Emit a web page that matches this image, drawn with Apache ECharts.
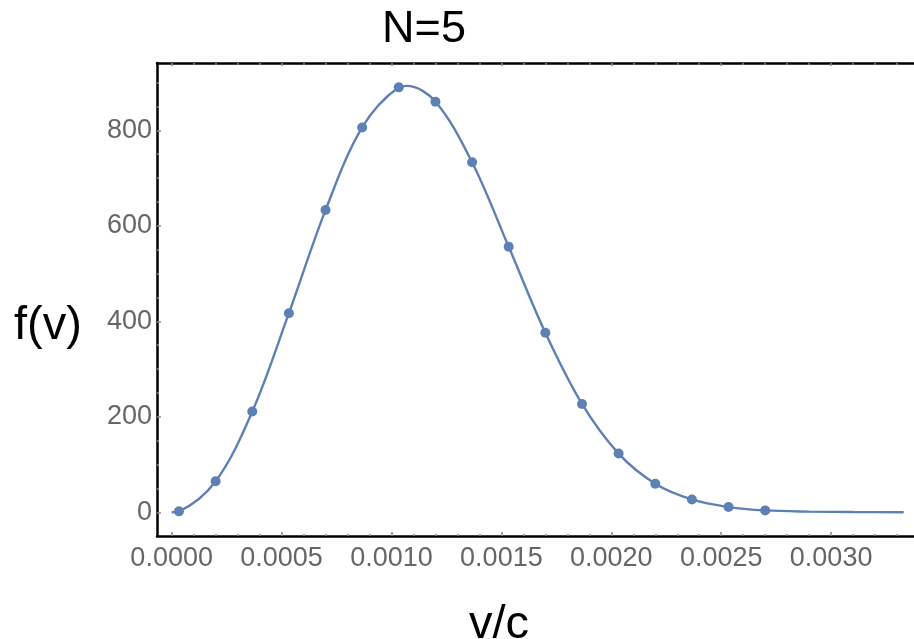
<!DOCTYPE html>
<html>
<head>
<meta charset="utf-8">
<script src="https://cdn.jsdelivr.net/npm/echarts@6/dist/echarts.min.js"></script>
<style>
html,body{margin:0;padding:0;background:#fff;}
#c{width:914px;height:639px;}
</style>
</head>
<body>
<div id="c"></div>
<script>
// ---- data ----
var titleText = 'N=5';
var xName = 'v/c';
var yName = 'f(v)';
// sampled points (dots)
var dotX = [0.0000333, 0.0002, 0.0003667, 0.0005333, 0.0007, 0.0008667, 0.0010333, 0.0012, 0.0013667, 0.0015333, 0.0017, 0.0018667, 0.0020333, 0.0022, 0.0023667, 0.0025333, 0.0027];
var dotY = [2, 65, 211, 417, 633, 806, 890, 860, 733, 556, 376, 227, 123, 60, 27, 11, 4];
// points
var curveX = [0, 0.0000333, 0.0002, 0.0003667, 0.0005333, 0.0007, 0.0008667, 0.0010333, 0.00107, 0.0012, 0.0013667, 0.0015333, 0.0017, 0.0018667, 0.0020333, 0.0022, 0.0023667, 0.0025333, 0.0027, 0.0029, 0.0031, 0.00333];
var curveY = [0, 2, 65, 211, 417, 633, 806, 890, 893, 860, 733, 556, 376, 227, 123, 60, 27, 11, 4, 1.5, 0.6, 0.2];
// tick labels
var xTicks = [0, 0.0005, 0.0010, 0.0015, 0.0020, 0.0025, 0.0030];
var yTicks = [0, 200, 400, 600, 800];
var xMinorStep = 0.0001;
var yMinorStep = 50;
// axis ranges
var xMin = -0.0000667, xMax = 0.003377;
var yMin = -49.6, yMax = 941;

function minorList(step, lo, hi) {
  var out = [];
  var k0 = Math.ceil(lo / step), k1 = Math.floor(hi / step);
  for (var k = k0; k <= k1; k++) out.push(+(k * step).toFixed(10));
  return out;
}
var xMinor = minorList(xMinorStep, xMin, xMax);
var yMinor = minorList(yMinorStep, yMin, yMax);

var FONT = '"Liberation Sans", Arial, sans-serif';
var LABEL_COLOR = '#666666';
var TICK_COLOR = '#8a8a8a';
var LINE_COLOR = '#5E81B5';

function xAx(pos, ticks, len, showLine, showLabel) {
  return {
    type: 'value', position: pos, min: xMin, max: xMax,
    axisLine: {show: showLine, onZero: false, lineStyle: {color: '#000', width: 2.5}},
    axisTick: {show: true, inside: true, length: len, customValues: ticks, lineStyle: {color: TICK_COLOR, width: 1.5}},
    axisLabel: {show: showLabel, customValues: xTicks, margin: 9, fontSize: 27, fontFamily: FONT, color: LABEL_COLOR,
      formatter: function (v) { return v.toFixed(4); }},
    splitLine: {show: false}
  };
}
function yAx(pos, ticks, len, showLine, showLabel) {
  return {
    type: 'value', position: pos, min: yMin, max: yMax,
    axisLine: {show: showLine, onZero: false, lineStyle: {color: '#000', width: 2.5}},
    axisTick: {show: true, inside: true, length: len, customValues: ticks, lineStyle: {color: TICK_COLOR, width: 1.5}},
    axisLabel: {show: showLabel, customValues: yTicks, margin: 5, fontSize: 27, fontFamily: FONT, color: LABEL_COLOR,
      formatter: function (v) { return String(v); }},
    splitLine: {show: false}
  };
}

var chart = echarts.init(document.getElementById('c'), null, {renderer: 'canvas'});
chart.setOption({
  animation: false,
  backgroundColor: '#fff',
  grid: {left: 157, top: 63, right: -2, bottom: 103, containLabel: false},
  xAxis: [
    xAx('bottom', xTicks, 4, true, true),
    xAx('bottom', xMinor, 2, false, false),
    xAx('top', xTicks, 3, true, false),
    xAx('top', xMinor, 2, false, false)
  ],
  yAxis: [
    yAx('left', yTicks, 4, true, true),
    yAx('left', yMinor, 2, false, false)
  ],
  graphic: [
    {type: 'text', x: 424, y: 30, style: {text: titleText, font: '45px ' + FONT, fill: '#000', textAlign: 'center', textVerticalAlign: 'middle'}},
    {type: 'text', x: 14, y: 326, style: {text: yName, font: '47px ' + FONT, fill: '#000', textAlign: 'left', textVerticalAlign: 'middle'}},
    {type: 'text', x: 499, y: 625, style: {text: xName, font: '47px ' + FONT, fill: '#000', textAlign: 'center', textVerticalAlign: 'middle'}}
  ],
  series: [
    {
      type: 'line', name: 'curve', xAxisIndex: 0, yAxisIndex: 0,
      data: curveX.map(function (x, i) { return [x, curveY[i]]; }),
      smooth: 0.35, showSymbol: false, symbol: 'none',
      lineStyle: {color: LINE_COLOR, width: 2.4}, z: 2
    },
    {
      type: 'scatter', name: 'points', xAxisIndex: 0, yAxisIndex: 0,
      data: dotX.map(function (x, i) { return [x, dotY[i]]; }),
      symbolSize: 10, itemStyle: {color: LINE_COLOR, opacity: 1}, z: 3
    }
  ]
});
</script>
</body>
</html>
